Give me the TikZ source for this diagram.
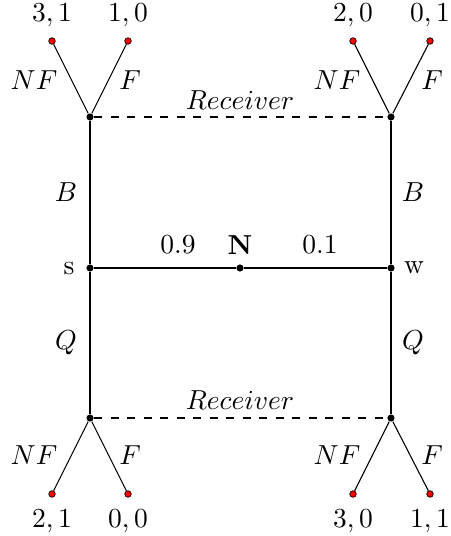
\documentclass[tikz,border=0pt]{standalone}
\begin{document}
\begin{tikzpicture}[x=0.3636pt,y=-0.3636pt,
  dec/.style={circle,fill=black,inner sep=0pt,minimum size=2.6pt},
  leaf/.style={circle,fill=red,draw=black,line width=0.25pt,inner sep=0pt,minimum size=2.4pt},
  edge/.style={line width=0.4pt},
  info/.style={dashed,line width=0.4pt},
  lbl/.style={inner sep=0pt}]
\useasboundingbox (0,0) rectangle (450,536);
% decision nodes
\node[dec] (s) at (90,268) {};
\node[dec] (w) at (391,268) {};
\node[dec] (n) at (240,268) {};
\node[dec] (sb) at (90,117) {};
\node[dec] (wb) at (391,117) {};
\node[dec] (sq) at (90,418) {};
\node[dec] (wq) at (391,418) {};
% leaves
\node[leaf] (l1) at (52,41) {};
\node[leaf] (l2) at (128,41) {};
\node[leaf] (l3) at (353,41) {};
\node[leaf] (l4) at (430,41) {};
\node[leaf] (l5) at (52,494) {};
\node[leaf] (l6) at (128,494) {};
\node[leaf] (l7) at (353,494) {};
\node[leaf] (l8) at (430,494) {};
% edges
\draw[edge] (s) -- (n) -- (w);
\draw[edge] (s) -- (sb);
\draw[edge] (s) -- (sq);
\draw[edge] (w) -- (wb);
\draw[edge] (w) -- (wq);
\draw[edge] (sb) -- (l1);
\draw[edge] (sb) -- (l2);
\draw[edge] (wb) -- (l3);
\draw[edge] (wb) -- (l4);
\draw[edge] (sq) -- (l5);
\draw[edge] (sq) -- (l6);
\draw[edge] (wq) -- (l7);
\draw[edge] (wq) -- (l8);
\draw[info] (sb) -- (wb);
\draw[info] (sq) -- (wq);
% payoffs
\node[lbl] (p1) at (52,15) {$3,1$};
\node[lbl] (p2) at (128,15) {$1,0$};
\node[lbl] (p3) at (353,15) {$2,0$};
\node[lbl] (p4) at (430,15) {$0,1$};
\node[lbl] (p5) at (52,521) {$2,1$};
\node[lbl] (p6) at (128,521) {$0,0$};
\node[lbl] (p7) at (353,521) {$3,0$};
\node[lbl] (p8) at (430,521) {$1,1$};
% action labels
\node[lbl] (a1) at (34,80) {$NF$};
\node[lbl] (a2) at (130,80) {$F$};
\node[lbl] (a3) at (337,80) {$NF$};
\node[lbl] (a4) at (432,80) {$F$};
\node[lbl] (a5) at (34,455) {$NF$};
\node[lbl] (a6) at (130,455) {$F$};
\node[lbl] (a7) at (337,455) {$NF$};
\node[lbl] (a8) at (432,455) {$F$};
\node[lbl] (r1) at (240,100) {$Receiver$};
\node[lbl] (r2) at (240,400) {$Receiver$};
\node[lbl] (b1) at (66,192) {$B$};
\node[lbl] (b2) at (413,192) {$B$};
\node[lbl] (q1) at (66,343) {$Q$};
\node[lbl] (q2) at (413,343) {$Q$};
\node[lbl] (pr1) at (178,245) {$0.9$};
\node[lbl] (nl) at (240,245) {$\mathbf{N}$};
\node[lbl] (pr2) at (320,245) {$0.1$};
\node[lbl] (sl) at (69,268) {s};
\node[lbl] (wl) at (414,268) {w};
\end{tikzpicture}
\end{document}
